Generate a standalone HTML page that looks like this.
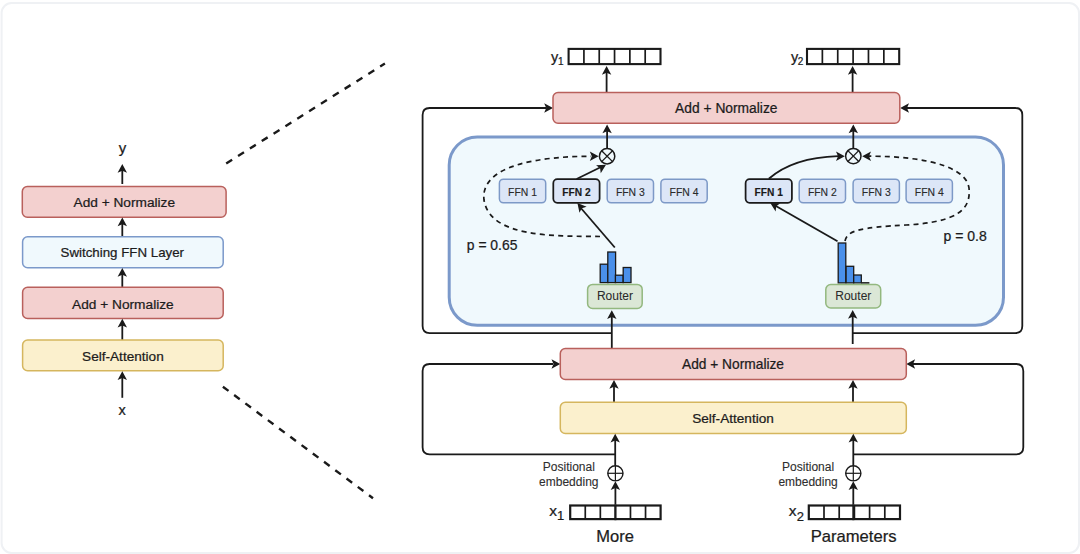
<!DOCTYPE html>
<html><head><meta charset="utf-8"><style>
html,body{margin:0;padding:0;background:#fff;}
svg{display:block;}
text{font-family:"Liberation Sans", sans-serif;}
</style></head><body>
<svg width="1080" height="554" viewBox="0 0 1080 554">
<rect x="1.6" y="3" width="1077.4" height="550" rx="10" fill="#fff" stroke="#eff1f4" stroke-width="2"/>
<text x="122.5" y="152.5" font-size="15" text-anchor="middle" font-weight="normal" fill="#1c1c1c" stroke="#1c1c1c" stroke-width="0.24" >y</text>
<line x1="122.3" y1="184" x2="122.3" y2="170" stroke="#1a1a1a" stroke-width="1.8"/>
<path d="M122.30 164.00 L127.00 172.80 L122.30 170.80 L117.60 172.80 Z" fill="#1a1a1a"/>
<rect x="22.3" y="186.5" width="203.79999999999998" height="30.69999999999999" rx="5" fill="#f3d0cf" stroke="#b9605c" stroke-width="1.5"/>
<text x="124.3" y="206.9" font-size="13.7" text-anchor="middle" font-weight="normal" fill="#1c1c1c" stroke="#1c1c1c" stroke-width="0.24" >Add + Normalize</text>
<line x1="122.3" y1="236.7" x2="122.3" y2="223.5" stroke="#1a1a1a" stroke-width="1.8"/>
<path d="M122.30 217.50 L127.00 226.30 L122.30 224.30 L117.60 226.30 Z" fill="#1a1a1a"/>
<rect x="22.6" y="236.7" width="200.6" height="31.100000000000023" rx="5" fill="#f0f9fd" stroke="#7b99ca" stroke-width="1.5"/>
<text x="122.3" y="257.3" font-size="13.3" text-anchor="middle" font-weight="normal" fill="#1c1c1c" stroke="#1c1c1c" stroke-width="0.24" >Switching FFN Layer</text>
<line x1="122.3" y1="287.3" x2="122.3" y2="274" stroke="#1a1a1a" stroke-width="1.8"/>
<path d="M122.30 268.00 L127.00 276.80 L122.30 274.80 L117.60 276.80 Z" fill="#1a1a1a"/>
<rect x="22.6" y="287.3" width="200.6" height="31.099999999999966" rx="5" fill="#f3d0cf" stroke="#b9605c" stroke-width="1.5"/>
<text x="122.9" y="308.5" font-size="13.7" text-anchor="middle" font-weight="normal" fill="#1c1c1c" stroke="#1c1c1c" stroke-width="0.24" >Add + Normalize</text>
<line x1="122.3" y1="340" x2="122.3" y2="324.7" stroke="#1a1a1a" stroke-width="1.8"/>
<path d="M122.30 318.70 L127.00 327.50 L122.30 325.50 L117.60 327.50 Z" fill="#1a1a1a"/>
<rect x="22.6" y="340" width="200.6" height="30.80000000000001" rx="5" fill="#fbf0cd" stroke="#d5b65e" stroke-width="1.5"/>
<text x="122.9" y="361" font-size="13.6" text-anchor="middle" font-weight="normal" fill="#1c1c1c" stroke="#1c1c1c" stroke-width="0.24" >Self-Attention</text>
<line x1="122.3" y1="397.8" x2="122.3" y2="377.3" stroke="#1a1a1a" stroke-width="1.8"/>
<path d="M122.30 371.30 L127.00 380.10 L122.30 378.10 L117.60 380.10 Z" fill="#1a1a1a"/>
<text x="122.1" y="414.5" font-size="14.5" text-anchor="middle" font-weight="normal" fill="#1c1c1c" stroke="#1c1c1c" stroke-width="0.24" >x</text>
<line x1="226.2" y1="163.5" x2="384.9" y2="63.5" stroke="#1a1a1a" stroke-width="2.4" stroke-dasharray="7 7"/>
<line x1="222.9" y1="386.7" x2="373" y2="498.2" stroke="#1a1a1a" stroke-width="2.4" stroke-dasharray="7 7"/>
<path d="M612 333.1 L429.6 333.1 Q422.6 333.1 422.6 326.1 L422.6 115 Q422.6 108 429.6 108 L546 108" fill="none" stroke="#1a1a1a" stroke-width="1.8"/>
<path d="M553.00 108.00 L544.20 112.70 L546.20 108.00 L544.20 103.30 Z" fill="#1a1a1a"/>
<path d="M852.7 333.1 L1015.3 333.1 Q1022.3 333.1 1022.3 326.1 L1022.3 115 Q1022.3 108 1015.3 108 L907 108" fill="none" stroke="#1a1a1a" stroke-width="1.8"/>
<path d="M900.20 108.00 L909.00 103.30 L907.00 108.00 L909.00 112.70 Z" fill="#1a1a1a"/>
<path d="M615 454.3 L429.6 454.3 Q422.6 454.3 422.6 447.3 L422.6 371 Q422.6 364 429.6 364 L553 364" fill="none" stroke="#1a1a1a" stroke-width="1.8"/>
<path d="M560.30 364.00 L551.50 368.70 L553.50 364.00 L551.50 359.30 Z" fill="#1a1a1a"/>
<path d="M853.2 454.3 L1016.3 454.3 Q1023.3 454.3 1023.3 447.3 L1023.3 371 Q1023.3 364 1016.3 364 L913 364" fill="none" stroke="#1a1a1a" stroke-width="1.8"/>
<path d="M906.30 364.00 L915.10 359.30 L913.10 364.00 L915.10 368.70 Z" fill="#1a1a1a"/>
<rect x="449.2" y="137" width="554.3" height="188.3" rx="28" fill="#f0f9fd" stroke="#7b99ca" stroke-width="3"/>
<text x="554.5" y="62" font-size="14.5" text-anchor="middle" font-weight="normal" fill="#1c1c1c" stroke="#1c1c1c" stroke-width="0.24" >y</text>
<text x="560.8" y="65" font-size="10" text-anchor="middle" font-weight="normal" fill="#1c1c1c" stroke="#1c1c1c" stroke-width="0.24" >1</text>
<rect x="568.6" y="48.9" width="91.89999999999998" height="15.199999999999996" fill="#fff" stroke="#1a1a1a" stroke-width="2.1"/>
<line x1="583.9166666666667" y1="48.9" x2="583.9166666666667" y2="64.1" stroke="#1a1a1a" stroke-width="1.7"/>
<line x1="599.2333333333333" y1="48.9" x2="599.2333333333333" y2="64.1" stroke="#1a1a1a" stroke-width="1.7"/>
<line x1="614.55" y1="48.9" x2="614.55" y2="64.1" stroke="#1a1a1a" stroke-width="1.7"/>
<line x1="629.8666666666667" y1="48.9" x2="629.8666666666667" y2="64.1" stroke="#1a1a1a" stroke-width="1.7"/>
<line x1="645.1833333333334" y1="48.9" x2="645.1833333333334" y2="64.1" stroke="#1a1a1a" stroke-width="1.7"/>
<text x="794.5" y="62" font-size="14.5" text-anchor="middle" font-weight="normal" fill="#1c1c1c" stroke="#1c1c1c" stroke-width="0.24" >y</text>
<text x="800.5" y="65" font-size="10" text-anchor="middle" font-weight="normal" fill="#1c1c1c" stroke="#1c1c1c" stroke-width="0.24" >2</text>
<rect x="807" y="48.9" width="92.20000000000005" height="15.199999999999996" fill="#fff" stroke="#1a1a1a" stroke-width="2.1"/>
<line x1="822.3666666666667" y1="48.9" x2="822.3666666666667" y2="64.1" stroke="#1a1a1a" stroke-width="1.7"/>
<line x1="837.7333333333333" y1="48.9" x2="837.7333333333333" y2="64.1" stroke="#1a1a1a" stroke-width="1.7"/>
<line x1="853.1" y1="48.9" x2="853.1" y2="64.1" stroke="#1a1a1a" stroke-width="1.7"/>
<line x1="868.4666666666667" y1="48.9" x2="868.4666666666667" y2="64.1" stroke="#1a1a1a" stroke-width="1.7"/>
<line x1="883.8333333333334" y1="48.9" x2="883.8333333333334" y2="64.1" stroke="#1a1a1a" stroke-width="1.7"/>
<line x1="606.6" y1="92.3" x2="606.6" y2="72" stroke="#1a1a1a" stroke-width="1.8"/>
<path d="M606.60 66.00 L611.30 74.80 L606.60 72.80 L601.90 74.80 Z" fill="#1a1a1a"/>
<line x1="852.6" y1="92.3" x2="852.6" y2="72" stroke="#1a1a1a" stroke-width="1.8"/>
<path d="M852.60 66.00 L857.30 74.80 L852.60 72.80 L847.90 74.80 Z" fill="#1a1a1a"/>
<rect x="553" y="92.6" width="346.79999999999995" height="30.60000000000001" rx="5" fill="#f3d0cf" stroke="#b9605c" stroke-width="1.5"/>
<text x="726.3" y="113.1" font-size="13.8" text-anchor="middle" font-weight="normal" fill="#1c1c1c" stroke="#1c1c1c" stroke-width="0.24" >Add + Normalize</text>
<line x1="607.1" y1="148" x2="607.1" y2="130.5" stroke="#1a1a1a" stroke-width="1.8"/>
<path d="M607.10 124.50 L611.80 133.30 L607.10 131.30 L602.40 133.30 Z" fill="#1a1a1a"/>
<line x1="853.3" y1="148" x2="853.3" y2="130.5" stroke="#1a1a1a" stroke-width="1.8"/>
<path d="M853.30 124.50 L858.00 133.30 L853.30 131.30 L848.60 133.30 Z" fill="#1a1a1a"/>
<circle cx="607.1" cy="156.2" r="7.7" fill="none" stroke="#1a1a1a" stroke-width="1.5"/>
<line x1="601.65533" y1="150.75533" x2="612.54467" y2="161.64467" stroke="#1a1a1a" stroke-width="1.3"/>
<line x1="601.65533" y1="161.64467" x2="612.54467" y2="150.75533" stroke="#1a1a1a" stroke-width="1.3"/>
<circle cx="853.3" cy="156.1" r="7.7" fill="none" stroke="#1a1a1a" stroke-width="1.5"/>
<line x1="847.85533" y1="150.65533" x2="858.7446699999999" y2="161.54467" stroke="#1a1a1a" stroke-width="1.3"/>
<line x1="847.85533" y1="161.54467" x2="858.7446699999999" y2="150.65533" stroke="#1a1a1a" stroke-width="1.3"/>
<rect x="499.4" y="179.2" width="46.299999999999955" height="23.600000000000023" rx="4" fill="#dce6f7" stroke="#7d99c7" stroke-width="1.5"/>
<text x="522.55" y="195.8" font-size="10.4" text-anchor="middle" font-weight="normal" fill="#2a2a2a" stroke="#2a2a2a" stroke-width="0.12" >FFN 1</text>
<rect x="553.3" y="179.2" width="46.299999999999955" height="23.600000000000023" rx="4" fill="#dce6f7" stroke="#1a1a1a" stroke-width="1.75"/>
<text x="576.4499999999999" y="195.8" font-size="10.2" text-anchor="middle" font-weight="bold" fill="#1a1a1a" stroke="#1a1a1a" stroke-width="0.15" >FFN 2</text>
<rect x="607.2" y="179.2" width="46.299999999999955" height="23.600000000000023" rx="4" fill="#dce6f7" stroke="#7d99c7" stroke-width="1.5"/>
<text x="630.35" y="195.8" font-size="10.4" text-anchor="middle" font-weight="normal" fill="#2a2a2a" stroke="#2a2a2a" stroke-width="0.12" >FFN 3</text>
<rect x="660.9" y="179.2" width="46.299999999999955" height="23.600000000000023" rx="4" fill="#dce6f7" stroke="#7d99c7" stroke-width="1.5"/>
<text x="684.05" y="195.8" font-size="10.4" text-anchor="middle" font-weight="normal" fill="#2a2a2a" stroke="#2a2a2a" stroke-width="0.12" >FFN 4</text>
<rect x="745.6" y="179.2" width="46.299999999999955" height="23.600000000000023" rx="4" fill="#dce6f7" stroke="#1a1a1a" stroke-width="1.75"/>
<text x="768.75" y="195.8" font-size="10.2" text-anchor="middle" font-weight="bold" fill="#1a1a1a" stroke="#1a1a1a" stroke-width="0.15" >FFN 1</text>
<rect x="799.2" y="179.2" width="46.299999999999955" height="23.600000000000023" rx="4" fill="#dce6f7" stroke="#7d99c7" stroke-width="1.5"/>
<text x="822.35" y="195.8" font-size="10.4" text-anchor="middle" font-weight="normal" fill="#2a2a2a" stroke="#2a2a2a" stroke-width="0.12" >FFN 2</text>
<rect x="853.1" y="179.2" width="46.299999999999955" height="23.600000000000023" rx="4" fill="#dce6f7" stroke="#7d99c7" stroke-width="1.5"/>
<text x="876.25" y="195.8" font-size="10.4" text-anchor="middle" font-weight="normal" fill="#2a2a2a" stroke="#2a2a2a" stroke-width="0.12" >FFN 3</text>
<rect x="906.1" y="179.2" width="46.299999999999955" height="23.600000000000023" rx="4" fill="#dce6f7" stroke="#7d99c7" stroke-width="1.5"/>
<text x="929.25" y="195.8" font-size="10.4" text-anchor="middle" font-weight="normal" fill="#2a2a2a" stroke="#2a2a2a" stroke-width="0.12" >FFN 4</text>
<line x1="614.8" y1="247.5" x2="580" y2="207" stroke="#1a1a1a" stroke-width="1.8"/>
<path d="M577.40 203.00 L586.66 206.71 L581.78 208.20 L579.47 212.76 Z" fill="#1a1a1a"/>
<line x1="576.6" y1="179" x2="600" y2="167.5" stroke="#1a1a1a" stroke-width="1.8"/>
<path d="M606.00 164.80 L600.75 173.29 L600.12 168.22 L596.03 165.16 Z" fill="#1a1a1a"/>
<path d="M600 236.5 C 555 236, 490 238, 484 200 C 480 165, 540 156.3, 591 156.3" fill="none" stroke="#1a1a1a" stroke-width="1.7" stroke-dasharray="5 4.2"/>
<path d="M598.60 156.30 L589.80 161.00 L591.80 156.30 L589.80 151.60 Z" fill="#1a1a1a"/>
<text x="466.8" y="250.4" font-size="13.9" text-anchor="start" font-weight="normal" fill="#1c1c1c" stroke="#1c1c1c" stroke-width="0.24" >p = 0.65</text>
<rect x="600.2" y="264.2" width="7.8" height="18.400000000000034" fill="#4a90ea" stroke="#1a1a1a" stroke-width="1.3"/>
<rect x="607.8" y="252" width="7.8" height="30.600000000000023" fill="#4a90ea" stroke="#1a1a1a" stroke-width="1.3"/>
<rect x="615.4" y="275.2" width="7.8" height="7.400000000000034" fill="#4a90ea" stroke="#1a1a1a" stroke-width="1.3"/>
<rect x="623.2" y="267.5" width="7.8" height="15.100000000000023" fill="#4a90ea" stroke="#1a1a1a" stroke-width="1.3"/>
<rect x="587.6" y="284.4" width="54.60000000000002" height="24.0" rx="5" fill="#dbe7d6" stroke="#93b87f" stroke-width="1.5"/>
<text x="614.9" y="300.3" font-size="12" text-anchor="middle" font-weight="normal" fill="#2a2a2a" stroke="#2a2a2a" stroke-width="0.05" >Router</text>
<line x1="611.8" y1="348.5" x2="611.8" y2="316.3" stroke="#1a1a1a" stroke-width="1.8"/>
<path d="M611.80 310.30 L616.50 319.10 L611.80 317.10 L607.10 319.10 Z" fill="#1a1a1a"/>
<line x1="837.5" y1="241.3" x2="775" y2="205.5" stroke="#1a1a1a" stroke-width="1.8"/>
<path d="M770.30 203.00 L780.27 203.27 L776.21 206.37 L775.62 211.44 Z" fill="#1a1a1a"/>
<path d="M768.8 178.8 C 787 163, 812 157, 838 156.2" fill="none" stroke="#1a1a1a" stroke-width="1.8"/>
<path d="M844.80 156.20 L836.00 160.90 L838.00 156.20 L836.00 151.50 Z" fill="#1a1a1a"/>
<path d="M845 241 C 847 230, 862 227.5, 906 225 C 960 222, 971 208, 969 188 C 965 160, 900 156, 868 156.2" fill="none" stroke="#1a1a1a" stroke-width="1.7" stroke-dasharray="5 4.2"/>
<path d="M862.20 156.20 L871.00 151.50 L869.00 156.20 L871.00 160.90 Z" fill="#1a1a1a"/>
<text x="943.6" y="240.8" font-size="14" text-anchor="start" font-weight="normal" fill="#1c1c1c" stroke="#1c1c1c" stroke-width="0.24" >p = 0.8</text>
<rect x="838.2" y="243" width="7.6" height="39.89999999999998" fill="#4a90ea" stroke="#1a1a1a" stroke-width="1.3"/>
<rect x="846.1" y="266.3" width="7.6" height="16.599999999999966" fill="#4a90ea" stroke="#1a1a1a" stroke-width="1.3"/>
<rect x="853.7" y="275" width="7.6" height="7.899999999999977" fill="#4a90ea" stroke="#1a1a1a" stroke-width="1.3"/>
<line x1="861.3" y1="282.9" x2="869.4" y2="282.9" stroke="#1a1a1a" stroke-width="1.6"/>
<rect x="825.8" y="284.5" width="54.90000000000009" height="23.5" rx="5" fill="#dbe7d6" stroke="#93b87f" stroke-width="1.5"/>
<text x="853.3" y="300.3" font-size="12" text-anchor="middle" font-weight="normal" fill="#2a2a2a" stroke="#2a2a2a" stroke-width="0.05" >Router</text>
<line x1="852.7" y1="344" x2="852.7" y2="316" stroke="#1a1a1a" stroke-width="1.8"/>
<path d="M852.70 310.00 L857.40 318.80 L852.70 316.80 L848.00 318.80 Z" fill="#1a1a1a"/>
<rect x="560.3" y="348.5" width="346.0" height="31.0" rx="5" fill="#f3d0cf" stroke="#b9605c" stroke-width="1.5"/>
<text x="733" y="369" font-size="13.75" text-anchor="middle" font-weight="normal" fill="#1c1c1c" stroke="#1c1c1c" stroke-width="0.24" >Add + Normalize</text>
<line x1="614" y1="402" x2="614" y2="386" stroke="#1a1a1a" stroke-width="1.8"/>
<path d="M614.00 380.00 L618.70 388.80 L614.00 386.80 L609.30 388.80 Z" fill="#1a1a1a"/>
<line x1="853" y1="402" x2="853" y2="386" stroke="#1a1a1a" stroke-width="1.8"/>
<path d="M853.00 380.00 L857.70 388.80 L853.00 386.80 L848.30 388.80 Z" fill="#1a1a1a"/>
<rect x="560.3" y="402.2" width="346.0" height="31.19999999999999" rx="5" fill="#fbf0cd" stroke="#d5b65e" stroke-width="1.5"/>
<text x="733" y="423" font-size="13.6" text-anchor="middle" font-weight="normal" fill="#1c1c1c" stroke="#1c1c1c" stroke-width="0.24" >Self-Attention</text>
<line x1="615.2" y1="465.5" x2="615.2" y2="439.8" stroke="#1a1a1a" stroke-width="1.8"/>
<path d="M615.20 433.80 L619.90 442.60 L615.20 440.60 L610.50 442.60 Z" fill="#1a1a1a"/>
<line x1="853.3" y1="465.5" x2="853.3" y2="439.8" stroke="#1a1a1a" stroke-width="1.8"/>
<path d="M853.30 433.80 L858.00 442.60 L853.30 440.60 L848.60 442.60 Z" fill="#1a1a1a"/>
<circle cx="615.4" cy="473.3" r="7.6" fill="#fff" stroke="#1a1a1a" stroke-width="1.4"/>
<line x1="607.8" y1="473.3" x2="623.0" y2="473.3" stroke="#1a1a1a" stroke-width="1.2"/>
<line x1="615.4" y1="465.7" x2="615.4" y2="480.90000000000003" stroke="#1a1a1a" stroke-width="1.2"/>
<circle cx="853.3" cy="473.3" r="7.6" fill="#fff" stroke="#1a1a1a" stroke-width="1.4"/>
<line x1="845.6999999999999" y1="473.3" x2="860.9" y2="473.3" stroke="#1a1a1a" stroke-width="1.2"/>
<line x1="853.3" y1="465.7" x2="853.3" y2="480.90000000000003" stroke="#1a1a1a" stroke-width="1.2"/>
<line x1="615.4" y1="504.4" x2="615.4" y2="487.2" stroke="#1a1a1a" stroke-width="1.8"/>
<path d="M615.40 481.20 L620.10 490.00 L615.40 488.00 L610.70 490.00 Z" fill="#1a1a1a"/>
<line x1="853.3" y1="504.4" x2="853.3" y2="487.2" stroke="#1a1a1a" stroke-width="1.8"/>
<path d="M853.30 481.20 L858.00 490.00 L853.30 488.00 L848.60 490.00 Z" fill="#1a1a1a"/>
<rect x="570.2" y="505.5" width="90.39999999999998" height="13.600000000000023" fill="#fff" stroke="#1a1a1a" stroke-width="2.2"/>
<line x1="585.2666666666667" y1="505.5" x2="585.2666666666667" y2="519.1" stroke="#1a1a1a" stroke-width="1.7"/>
<line x1="600.3333333333334" y1="505.5" x2="600.3333333333334" y2="519.1" stroke="#1a1a1a" stroke-width="1.7"/>
<line x1="615.4000000000001" y1="505.5" x2="615.4000000000001" y2="519.1" stroke="#1a1a1a" stroke-width="1.7"/>
<line x1="630.4666666666667" y1="505.5" x2="630.4666666666667" y2="519.1" stroke="#1a1a1a" stroke-width="1.7"/>
<line x1="645.5333333333333" y1="505.5" x2="645.5333333333333" y2="519.1" stroke="#1a1a1a" stroke-width="1.7"/>
<rect x="808.8" y="505.5" width="91.20000000000005" height="13.600000000000023" fill="#fff" stroke="#1a1a1a" stroke-width="2.2"/>
<line x1="824.0" y1="505.5" x2="824.0" y2="519.1" stroke="#1a1a1a" stroke-width="1.7"/>
<line x1="839.1999999999999" y1="505.5" x2="839.1999999999999" y2="519.1" stroke="#1a1a1a" stroke-width="1.7"/>
<line x1="854.4" y1="505.5" x2="854.4" y2="519.1" stroke="#1a1a1a" stroke-width="1.7"/>
<line x1="869.6" y1="505.5" x2="869.6" y2="519.1" stroke="#1a1a1a" stroke-width="1.7"/>
<line x1="884.8" y1="505.5" x2="884.8" y2="519.1" stroke="#1a1a1a" stroke-width="1.7"/>
<line x1="615.4" y1="504.4" x2="615.4" y2="520.2" stroke="#1a1a1a" stroke-width="2"/>
<line x1="853.3" y1="504.4" x2="853.3" y2="520.2" stroke="#1a1a1a" stroke-width="2"/>
<text x="568.8" y="470.9" font-size="12" text-anchor="middle" font-weight="normal" fill="#2e2e2e" stroke="#2e2e2e" stroke-width="0.1" >Positional</text>
<text x="568.8" y="486.3" font-size="12" text-anchor="middle" font-weight="normal" fill="#2e2e2e" stroke="#2e2e2e" stroke-width="0.1" >embedding</text>
<text x="808.1" y="470.9" font-size="12" text-anchor="middle" font-weight="normal" fill="#2e2e2e" stroke="#2e2e2e" stroke-width="0.1" >Positional</text>
<text x="808.1" y="486.3" font-size="12" text-anchor="middle" font-weight="normal" fill="#2e2e2e" stroke="#2e2e2e" stroke-width="0.1" >embedding</text>
<text x="553" y="516" font-size="15.5" text-anchor="middle" font-weight="normal" fill="#1c1c1c" stroke="#1c1c1c" stroke-width="0.24" >x</text>
<text x="560.6" y="519.5" font-size="13" text-anchor="middle" font-weight="normal" fill="#1c1c1c" stroke="#1c1c1c" stroke-width="0.24" >1</text>
<text x="792.5" y="516.4" font-size="15.5" text-anchor="middle" font-weight="normal" fill="#1c1c1c" stroke="#1c1c1c" stroke-width="0.24" >x</text>
<text x="800.3" y="520.5" font-size="13" text-anchor="middle" font-weight="normal" fill="#1c1c1c" stroke="#1c1c1c" stroke-width="0.24" >2</text>
<text x="615.1" y="541.6" font-size="16.5" text-anchor="middle" font-weight="normal" fill="#1c1c1c" stroke="#1c1c1c" stroke-width="0.24" >More</text>
<text x="853.6" y="541.6" font-size="16.6" text-anchor="middle" font-weight="normal" fill="#1c1c1c" stroke="#1c1c1c" stroke-width="0.24" >Parameters</text>
</svg>
</body></html>
